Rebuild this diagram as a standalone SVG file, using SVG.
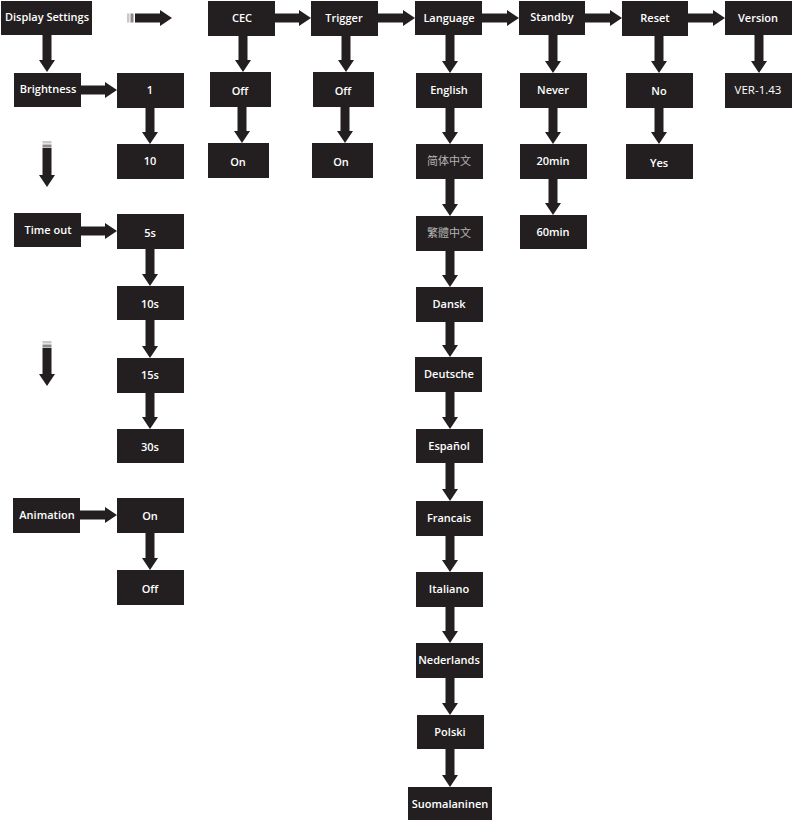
<svg xmlns="http://www.w3.org/2000/svg" width="793" height="820" viewBox="0 0 793 820">
<style>
.b{fill:#231f20}
.t{font-family:"Open Sans","Noto Sans","Liberation Sans",sans-serif;font-size:11px;font-weight:600;fill:#ffffff;text-anchor:middle;dominant-baseline:central}
.r{font-weight:400;font-size:11.5px}
.cjk{font-family:"Noto Sans CJK SC","Noto Sans CJK TC",sans-serif;font-weight:400;fill:#b4b4b4;font-size:11px}
.a{fill:#231f20}
.s1{fill:#c8c8c8}
.s2{fill:#8a8a8a}
</style>
<rect width="793" height="820" fill="#ffffff"/>
<g id="connectors">
<rect class="s1" x="127" y="13.5" width="2.5" height="9"/><rect class="s2" x="130.5" y="13.5" width="3" height="9"/>
<path class="a" d="M135 13.5 H160 V10 L172 18 L160 26 V22.5 H135 Z"/>
<path class="a" d="M275 13.5 H299 V10 L311 18 L299 26 V22.5 H275 Z"/>
<path class="a" d="M378 13.5 H403 V10 L415 18 L403 26 V22.5 H378 Z"/>
<path class="a" d="M482 13.5 H507 V10 L519 18 L507 26 V22.5 H482 Z"/>
<path class="a" d="M585 13.5 H610 V10 L622 18 L610 26 V22.5 H585 Z"/>
<path class="a" d="M688 13.5 H713 V10 L725 18 L713 26 V22.5 H688 Z"/>
<path class="a" d="M81 85.5 H105 V82 L117 90 L105 98 V94.5 H81 Z"/>
<path class="a" d="M81 226.5 H105 V223 L117 231 L105 239 V235.5 H81 Z"/>
<path class="a" d="M80 510.5 H105 V507 L117 515 L105 523 V519.5 H80 Z"/>
<path class="a" d="M42.5 35 H51.5 V60 H55 L47 72 L39 60 H42.5 Z"/>
<rect class="s1" x="42.5" y="141" width="9" height="2.5"/><rect class="s2" x="42.5" y="144.5" width="9" height="3"/>
<path class="a" d="M42.5 148 H51.5 V175 H55 L47 187 L39 175 H42.5 Z"/>
<rect class="s1" x="42.5" y="341" width="9" height="2.5"/><rect class="s2" x="42.5" y="344.5" width="9" height="3"/>
<path class="a" d="M42.5 348 H51.5 V374 H55 L47 386 L39 374 H42.5 Z"/>
<path class="a" d="M145.5 108 H154.5 V132 H158 L150 144 L142 132 H145.5 Z"/>
<path class="a" d="M238.5 36 H247.5 V60 H251 L243 72 L235 60 H238.5 Z"/>
<path class="a" d="M237.5 107 H246.5 V131 H250 L242 143 L234 131 H237.5 Z"/>
<path class="a" d="M341.5 36 H350.5 V60 H354 L346 72 L338 60 H341.5 Z"/>
<path class="a" d="M340.5 107 H349.5 V131 H353 L345 143 L337 131 H340.5 Z"/>
<path class="a" d="M445.5 35 H454.5 V61 H458 L450 73 L442 61 H445.5 Z"/>
<path class="a" d="M445.5 108 H454.5 V132 H458 L450 144 L442 132 H445.5 Z"/>
<path class="a" d="M445.5 179 H454.5 V204 H458 L450 216 L442 204 H445.5 Z"/>
<path class="a" d="M445.5 251 H454.5 V275 H458 L450 287 L442 275 H445.5 Z"/>
<path class="a" d="M445.5 322 H454.5 V345 H458 L450 357 L442 345 H445.5 Z"/>
<path class="a" d="M445.5 392 H454.5 V417 H458 L450 429 L442 417 H445.5 Z"/>
<path class="a" d="M445.5 463 H454.5 V489 H458 L450 501 L442 489 H445.5 Z"/>
<path class="a" d="M445.5 536 H454.5 V560 H458 L450 572 L442 560 H445.5 Z"/>
<path class="a" d="M445.5 607 H454.5 V631 H458 L450 643 L442 631 H445.5 Z"/>
<path class="a" d="M445.5 678 H454.5 V703 H458 L450 715 L442 703 H445.5 Z"/>
<path class="a" d="M445.5 749 H454.5 V775 H458 L450 787 L442 775 H445.5 Z"/>
<path class="a" d="M548.5 35 H557.5 V61 H561 L553 73 L545 61 H548.5 Z"/>
<path class="a" d="M548.5 108 H557.5 V132 H561 L553 144 L545 132 H548.5 Z"/>
<path class="a" d="M548.5 179 H557.5 V203 H561 L553 215 L545 203 H548.5 Z"/>
<path class="a" d="M654.5 36 H663.5 V61 H667 L659 73 L651 61 H654.5 Z"/>
<path class="a" d="M654.5 108 H663.5 V132 H667 L659 144 L651 132 H654.5 Z"/>
<path class="a" d="M754.5 35 H763.5 V61 H767 L759 73 L751 61 H754.5 Z"/>
<path class="a" d="M145.5 249 H154.5 V274 H158 L150 286 L142 274 H145.5 Z"/>
<path class="a" d="M145.5 320 H154.5 V346 H158 L150 358 L142 346 H145.5 Z"/>
<path class="a" d="M145.5 393 H154.5 V417 H158 L150 429 L142 417 H145.5 Z"/>
<path class="a" d="M145.5 533 H154.5 V558 H158 L150 570 L142 558 H145.5 Z"/>
</g>
<g id="n-display"><rect class="b" x="1" y="1" width="91" height="34"/><text class="t" x="47" y="16.5">Display Settings</text></g>
<g id="n-cec"><rect class="b" x="208" y="1" width="67" height="35"/><text class="t" x="242" y="17">CEC</text></g>
<g id="n-trigger"><rect class="b" x="311" y="1" width="67" height="35"/><text class="t" x="344" y="17.5">Trigger</text></g>
<g id="n-language"><rect class="b" x="415" y="1" width="67" height="34"/><text class="t" x="449" y="17">Language</text></g>
<g id="n-standby"><rect class="b" x="519" y="1" width="66" height="34"/><text class="t" x="552" y="16">Standby</text></g>
<g id="n-reset"><rect class="b" x="622" y="1" width="66" height="35"/><text class="t" x="655" y="17">Reset</text></g>
<g id="n-version"><rect class="b" x="725" y="1" width="67" height="34"/><text class="t" x="758" y="17">Version</text></g>
<g id="n-brightness"><rect class="b" x="14" y="73" width="67" height="34"/><text class="t" x="48" y="88.5">Brightness</text></g>
<g id="n-b1"><rect class="b" x="117" y="73" width="67" height="35"/><text class="t" x="150" y="89">1</text></g>
<g id="n-b10"><rect class="b" x="117" y="144" width="67" height="35"/><text class="t" x="150" y="160">10</text></g>
<g id="n-cec-off"><rect class="b" x="210" y="72" width="61" height="35"/><text class="t" x="240" y="90">Off</text></g>
<g id="n-cec-on"><rect class="b" x="208" y="143" width="61" height="35"/><text class="t" x="238" y="161">On</text></g>
<g id="n-trig-off"><rect class="b" x="313" y="72" width="61" height="35"/><text class="t" x="343" y="90">Off</text></g>
<g id="n-trig-on"><rect class="b" x="312" y="143" width="61" height="35"/><text class="t" x="341" y="161">On</text></g>
<g id="n-english"><rect class="b" x="416" y="73" width="66" height="35"/><text class="t" x="449" y="89">English</text></g>
<g id="n-zhs"><rect class="b" x="416" y="144" width="67" height="35"/><text class="t cjk" x="449" y="160" font-family="Noto Sans CJK SC">简体中文</text></g>
<g id="n-zht"><rect class="b" x="416" y="216" width="67" height="35"/><text class="t cjk" x="449" y="232" style="font-family:'Noto Sans CJK TC',sans-serif">繁體中文</text></g>
<g id="n-dansk"><rect class="b" x="416" y="287" width="67" height="35"/><text class="t" x="449" y="303">Dansk</text></g>
<g id="n-deutsche"><rect class="b" x="415" y="357" width="67" height="35"/><text class="t" x="449" y="373">Deutsche</text></g>
<g id="n-espanol"><rect class="b" x="416" y="429" width="67" height="34"/><text class="t" x="449" y="445">Español</text></g>
<g id="n-francais"><rect class="b" x="416" y="501" width="67" height="35"/><text class="t" x="449" y="517">Francais</text></g>
<g id="n-italiano"><rect class="b" x="416" y="572" width="67" height="35"/><text class="t" x="449" y="588">Italiano</text></g>
<g id="n-nederlands"><rect class="b" x="416" y="643" width="67" height="35"/><text class="t" x="449" y="659">Nederlands</text></g>
<g id="n-polski"><rect class="b" x="417" y="715" width="67" height="34"/><text class="t" x="450" y="731">Polski</text></g>
<g id="n-suomi"><rect class="b" x="408" y="787" width="84" height="33"/><text class="t" x="450" y="803">Suomalaninen</text></g>
<g id="n-never"><rect class="b" x="520" y="73" width="67" height="35"/><text class="t" x="553" y="89">Never</text></g>
<g id="n-20min"><rect class="b" x="520" y="144" width="67" height="35"/><text class="t" x="553" y="160">20min</text></g>
<g id="n-60min"><rect class="b" x="520" y="215" width="67" height="34"/><text class="t" x="553" y="231">60min</text></g>
<g id="n-no"><rect class="b" x="626" y="73" width="67" height="35"/><text class="t" x="659" y="90.5">No</text></g>
<g id="n-yes"><rect class="b" x="626" y="144" width="67" height="35"/><text class="t" x="659" y="162">Yes</text></g>
<g id="n-ver"><rect class="b" x="725" y="73" width="67" height="35"/><text class="t r" x="758" y="89">VER-1.43</text></g>
<g id="n-timeout"><rect class="b" x="14" y="213" width="67" height="34"/><text class="t" x="48" y="229">Time out</text></g>
<g id="n-5s"><rect class="b" x="117" y="214" width="67" height="35"/><text class="t" x="150" y="232">5s</text></g>
<g id="n-10s"><rect class="b" x="117" y="286" width="67" height="34"/><text class="t" x="150" y="303.5">10s</text></g>
<g id="n-15s"><rect class="b" x="117" y="358" width="67" height="35"/><text class="t" x="150" y="374">15s</text></g>
<g id="n-30s"><rect class="b" x="117" y="429" width="67" height="34"/><text class="t" x="150" y="446.5">30s</text></g>
<g id="n-animation"><rect class="b" x="13" y="498" width="67" height="35"/><text class="t" x="47" y="514.5">Animation</text></g>
<g id="n-anim-on"><rect class="b" x="117" y="498" width="67" height="35"/><text class="t" x="150" y="515">On</text></g>
<g id="n-anim-off"><rect class="b" x="117" y="570" width="67" height="35"/><text class="t" x="150" y="588">Off</text></g>
</svg>
